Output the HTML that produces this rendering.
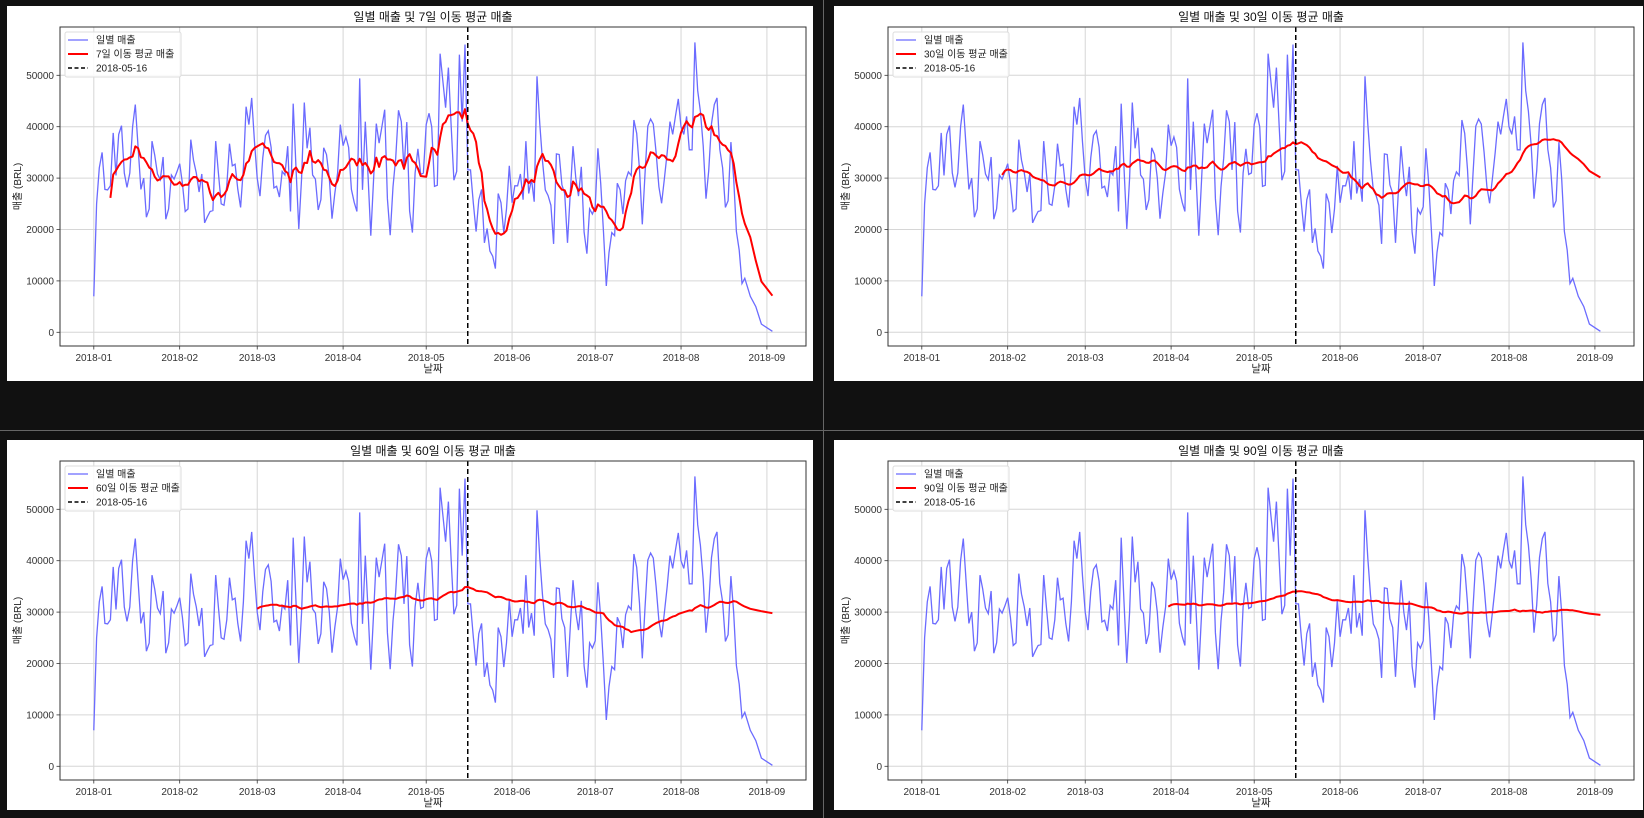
<!DOCTYPE html>
<html><head><meta charset="utf-8">
<style>
html,body{margin:0;padding:0;background:#111;}
svg{display:block;}
text{font-family:"Liberation Sans","Noto Sans CJK KR",sans-serif;}
</style></head>
<body>
<svg id="fig" width="1644" height="818" viewBox="0 0 1644 818" xmlns="http://www.w3.org/2000/svg">
<rect x="0" y="0" width="1644" height="818" fill="#111"/>
<line x1="823.5" y1="0" x2="823.5" y2="818" stroke="#666" stroke-width="1"/>
<line x1="0" y1="430.5" x2="1644" y2="430.5" stroke="#666" stroke-width="1"/>
</svg>
<script>
const startDate = '2018-01-01';
const jan = [7000,25000,32000,35000,27800,27700,28500,38800,30500,38500,40200,31000,28200,31000,40000,44300,36000,27800,30000,22400,24000,37200,34500,30800,29700,34100,22000,24000,30600,29800,31200];
const feb = [32800,29000,23500,24000,37500,33500,31000,27300,30800,21300,22500,23500,23700,37200,31000,25000,24700,28500,36700,32400,32700,27800,24300,32000,43900,40400,45600,37000];
const mar = [30000,26500,34000,38300,39200,36000,28100,28400,26300,31300,30600,36200,23500,44500,32000,20100,30000,44700,35800,39800,30600,29800,23800,25800,35900,34600,30000,22100,27000,31000,40400];
const apr = [36300,38000,36000,27800,25300,23500,49400,27700,41000,30600,18800,29800,40600,36800,40000,43300,26000,18900,28300,33900,43200,41000,31600,40900,23600,19400,31000,35700,30700,31000];
const may = [40400,42600,40000,28400,28600,54200,49000,43700,51500,40400,29600,31300,54000,41000,56000,31600,31600,25200,19600,25800,27800,17400,20200,15800,14800,12400,27000,25200,19300,24000,32400];
const jun = [25200,28500,28500,30800,25800,37200,27000,29800,25400,49800,40500,33300,27700,26600,24700,17200,34700,34600,28700,27000,17400,26800,36200,30000,26500,32200,19500,15300,24000,23000];
const jul = [24400,35800,29000,19500,9000,15500,19400,18800,29000,27700,23000,29500,31200,30500,41300,38700,31700,21000,30800,40100,41500,40500,35000,28300,25100,29900,35000,41000,38500,42100,45400];
const aug = [40000,38500,42000,35500,35500,56400,47000,43000,36300,26000,31400,40600,44300,45600,35600,32000,24300,25600,37000,29800,19600,16000,9500,10500,null,7000,null,5000,null,1600,null];
const sep = [null,null,200];
const dailySales = [].concat(jan,feb,mar,apr,may,jun,jul,aug,sep);
const windows = [7,30,60,90];
const markerDate = '2018-05-16';
const xTickLabels = ['2018-01','2018-02','2018-03','2018-04','2018-05','2018-06','2018-07','2018-08','2018-09'];
const yTicks = [0,10000,20000,30000,40000,50000];

const NS='http://www.w3.org/2000/svg';
const fig=document.getElementById('fig');
const DAY=86400000;
const t0=Date.parse(startDate);
function dayOf(s){return Math.round((Date.parse(s.length===7?s+'-01':s)-t0)/DAY);}
// axis functions (panel-local coords)
const AX={l:60,r:806,t:27,b:346};
function xS(d){return 93.8 + d*2.770;}
function yS(v){return 332.3 - v*0.00514;}
function el(tag,attrs,parent){const e=document.createElementNS(NS,tag);for(const k in attrs)e.setAttribute(k,attrs[k]);parent.appendChild(e);return e;}

const rows=[];
dailySales.forEach((v,i)=>{if(v!==null)rows.push({d:i,v:v});});
function rolling(w){const out=[];for(let i=w-1;i<rows.length;i++){let s=0;for(let j=i-w+1;j<=i;j++)s+=rows[j].v;out.push({d:rows[i].d,v:s/w});}return out;}

const panels=[{dx:0,dy:0,wx:7,wy:6,ww:806,wh:375},{dx:828,dy:0,wx:834,wy:6,ww:809,wh:375},{dx:0,dy:434,wx:7,wy:440,ww:806,wh:370},{dx:828,dy:434,wx:834,wy:440,ww:809,wh:370}];

windows.forEach((w,pi)=>{
  const P=panels[pi];
  const bg=el('rect',{x:P.wx,y:P.wy,width:P.ww,height:P.wh,fill:'#fff'},fig);
  
  
  const g=el('g',{transform:`translate(${P.dx},${P.dy})`},fig);
  
  
  // grid
  xTickLabels.forEach(lb=>{const x=xS(dayOf(lb));
    const gl=el('line',{x1:x,x2:x,y1:AX.t,y2:AX.b,stroke:'#d6d6d6','stroke-width':1},g);
    
    
    el('line',{x1:x,x2:x,y1:AX.b,y2:AX.b+3.5,stroke:'#333','stroke-width':0.8},g);
    const t=el('text',{x:x,y:AX.b+15,'font-size':10,'text-anchor':'middle',fill:'#333'},g);t.textContent=lb;
    
    
  });
  yTicks.forEach(v=>{const y=yS(v);
    const gl=el('line',{x1:AX.l,x2:AX.r,y1:y,y2:y,stroke:'#d6d6d6','stroke-width':1},g);
    
    
    el('line',{x1:AX.l-3.5,x2:AX.l,y1:y,y2:y,stroke:'#333','stroke-width':0.8},g);
    const t=el('text',{x:AX.l-6,y:y+3.5,'font-size':10,'text-anchor':'end',fill:'#333'},g);t.textContent=String(v);
    
    
  });
  // daily line
  const dp=rows.map((r,i)=>(i?'L':'M')+xS(r.d).toFixed(1)+' '+yS(r.v).toFixed(1)).join(' ');
  const dl=el('path',{d:dp,fill:'none',stroke:'#6b6bff','stroke-width':1.3},g);
  
  
  const ma=rolling(w);
  const mp=ma.map((r,i)=>(i?'L':'M')+xS(r.d).toFixed(1)+' '+yS(r.v).toFixed(1)).join(' ');
  const ml=el('path',{d:mp,fill:'none',stroke:'#ff0000','stroke-width':2,'stroke-linejoin':'round'},g);
  
  
  const mx=xS(dayOf(markerDate));
  const vl=el('line',{x1:mx,x2:mx,y1:AX.t,y2:AX.b,stroke:'#000','stroke-width':1.5,'stroke-dasharray':'5 3'},g);
  
  
  const fr=el('rect',{x:AX.l,y:AX.t,width:AX.r-AX.l,height:AX.b-AX.t,fill:'none',stroke:'#333','stroke-width':1},g);
  
  
  const ti=el('text',{x:(AX.l+AX.r)/2,y:21,'font-size':12,'text-anchor':'middle',fill:'#111'},g);
  ti.textContent='일별 매출 및 '+w+'일 이동 평균 매출';
  
  
  const xl=el('text',{x:(AX.l+AX.r)/2,y:372,'font-size':10.5,'text-anchor':'middle',fill:'#222'},g);
  xl.textContent='날짜';
  
  
  const yl=el('text',{x:0,y:0,'font-size':10,'text-anchor':'middle',fill:'#222',transform:`translate(21,${(AX.t+AX.b)/2}) rotate(-90)`},g);
  yl.textContent='매출 (BRL)';
  
  
  // legend
  const lg=el('g',{},g);
  
  
  el('rect',{x:65,y:32,width:116,height:45,rx:2,fill:'#fff','fill-opacity':0.85,stroke:'#ddd','stroke-width':1},lg);
  const items=[['일별 매출','#6b6bff',1.3,''],[w+'일 이동 평균 매출','#ff0000',2,''],[markerDate,'#000',1.5,'4 2.5']];
  items.forEach((it,i)=>{const y=40+i*14;
    const e=el('g',{},lg);
    
    
    const a={x1:68,x2:88,y1:y,y2:y,stroke:it[1],'stroke-width':it[2]};if(it[3])a['stroke-dasharray']=it[3];
    el('line',a,e);
    const t=el('text',{x:96,y:y+3.5,'font-size':10,fill:'#222'},e);t.textContent=it[0];
  });
});
</script>
</body></html>
